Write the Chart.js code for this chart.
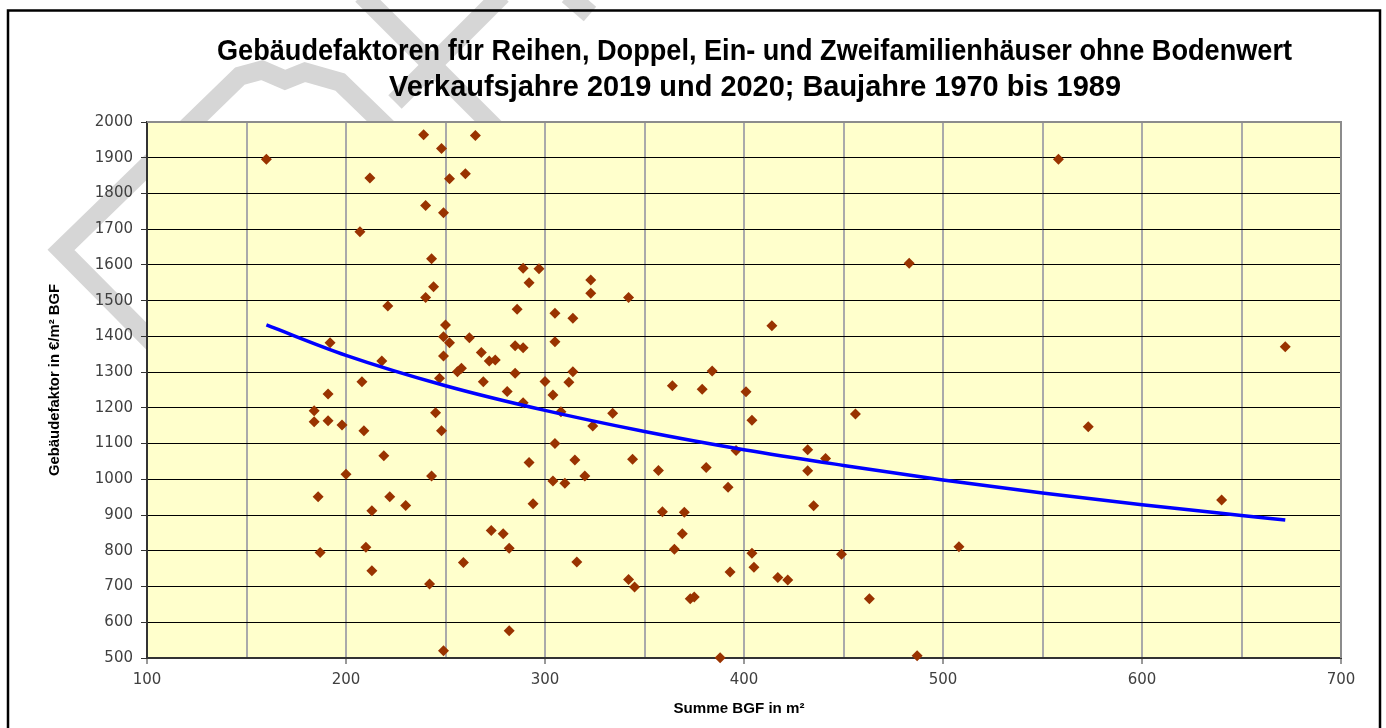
<!DOCTYPE html>
<html>
<head>
<meta charset="utf-8">
<script src="https://cdn.jsdelivr.net/npm/chart.js@4"></script>
<style>
body{margin:0;background:#fff;}
canvas{display:block;}
</style>
</head>
<body>
<canvas id="chart" width="1386" height="728"></canvas>
<script>

/* DATA */

const bgfValues=[
160,239,248,265,212,260,252,240,249,207,243,244,240,221,250,249,252,262,192,218,
249,256,258,268,272,275,247,269,208,191,184,184,191,198,209,245,248,219,200,243,
186,222,213,230,210,187,213,242,259,249,273,279,282,282,
286,289,297,292,285,289,285,281,289,300,304,305,305,314,323,323,342,312,314,308,
324,334,305,292,315,304,310,320,294,316,342,345,344,357,
364,379,384,381,359,370,369,365,373,375,388,392,393,558,483,414,672,401,404,456,
573,396,432,441,432,435,640,508,404,449,405,417,422,463,487
];

const factorValues=[
1896,1964,1926,1962,1843,1855,1841,1766,1746,1693,1617,1539,1509,1485,1432,1399,1382,1396,1382,1331,
1345,1301,1311,1355,1331,1334,1283,1273,1273,1239,1192,1161,1164,1152,1136,1186,1136,1066,1014,1009,
951,951,912,927,810,795,744,707,767,520,857,848,807,576,
1476,1591,1589,1550,1374,1368,1297,1246,1214,1274,1236,1385,1465,1451,1558,1521,1509,1272,1301,1189,
1149,1185,1100,1047,1054,995,989,1009,932,769,720,699,1056,1025,
1262,1252,1303,1033,909,908,848,804,666,671,501,978,741,1896,1605,1430,1371,1245,1165,1183,
1147,1081,1083,1058,1024,926,942,811,793,790,754,725,718,666,506
];

/* trend line */
const trendX=[160,200,250,300,350,400,450,500,550,600,650,672];
const trendY=[1432,1347,1262,1193,1134,1083,1039,998,962,929,899,886];

const titleLines=[
"Gebäudefaktoren für Reihen, Doppel, Ein- und Zweifamilienhäuser ohne Bodenwert",
"Verkaufsjahre 2019 und 2020; Baujahre 1970 bis 1989"
];
const xTitle="Summe BGF in m²";
const yTitle="Gebäudefaktor in €/m² BGF";


/* POINTS */

const points=bgfValues.map((x,i)=>({x:x,y:factorValues[i]}));
const trend=trendX.map((x,i)=>({x:x,y:trendY[i]}));


/* TEXT HELPER */

const boldFont='"Liberation Sans Narrow","Liberation Sans",Arial,sans-serif';

function fitText(ctx,text,x,y,width,font,angle){
ctx.save();
ctx.font=font;
const w=ctx.measureText(text).width;
ctx.translate(x,y);
if(angle) ctx.rotate(angle);
ctx.scale(width/w,1);
ctx.textAlign="center";
ctx.textBaseline="alphabetic";
ctx.fillStyle="#000";
ctx.fillText(text,0,0);
ctx.restore();
}


/* BACKGROUND, WATERMARK, TITLES */

const decor={
id:"decor",

beforeDraw(chart){
const ctx=chart.ctx;
const a=chart.chartArea;

ctx.save();
ctx.fillStyle="#fff";
ctx.fillRect(0,0,chart.width,chart.height);

// watermark
ctx.strokeStyle="#d6d6d6";
ctx.lineWidth=19;
ctx.lineJoin="miter";
ctx.beginPath();
ctx.moveTo(170,360);
ctx.lineTo(61,250);
ctx.lineTo(240,76);
ctx.lineTo(262,70);
ctx.lineTo(285,80);
ctx.lineTo(305,72);
ctx.lineTo(340,82);
ctx.lineTo(400,140);
ctx.stroke();
ctx.beginPath();
ctx.moveTo(362,-5);
ctx.lineTo(500,133);
ctx.stroke();
ctx.beginPath();
ctx.moveTo(502,-5);
ctx.lineTo(395,102);
ctx.stroke();
ctx.beginPath();
ctx.moveTo(568,-5);
ctx.lineTo(590,14);
ctx.stroke();

// outer frame
ctx.strokeStyle="#000";
ctx.lineWidth=2.5;
ctx.strokeRect(8,10.5,1372,740);

// plot area
ctx.fillStyle="#FFFFCC";
ctx.fillRect(a.left,a.top,a.right-a.left,a.bottom-a.top);
ctx.restore();
},

beforeDatasetsDraw(chart){
const ctx=chart.ctx;
const a=chart.chartArea;
ctx.save();
ctx.strokeStyle="#8c8c8c";
ctx.lineWidth=2;
ctx.beginPath();
ctx.moveTo(a.left,a.top);
ctx.lineTo(a.right,a.top);
ctx.lineTo(a.right,a.bottom);
ctx.stroke();
ctx.restore();
},

afterDraw(chart){
const ctx=chart.ctx;
fitText(ctx,titleLines[0],754.5,60,1075,"bold 30px "+boldFont);
fitText(ctx,titleLines[1],755,96,732,"bold 30px "+boldFont);
fitText(ctx,xTitle,739,713,131,"bold 15px "+boldFont);
fitText(ctx,yTitle,59,380,192,"bold 15px "+boldFont,-Math.PI/2);
}
};


/* CHART */

const tickFont={family:'"DejaVu Sans",Verdana,sans-serif',size:15};

new Chart(document.getElementById("chart"),{
type:"scatter",
data:{
datasets:[
{
type:"line",
data:trend,
borderColor:"#0000FF",
borderWidth:3.5,
pointRadius:0,
fill:false,
cubicInterpolationMode:"monotone",
order:0
},
{
data:points,
pointStyle:"rectRot",
pointRadius:5.5,
backgroundColor:"#993300",
borderColor:"#993300",
borderWidth:0,
clip:false,
order:1
}
]
},
options:{
responsive:false,
animation:false,
devicePixelRatio:1,
layout:{padding:{left:0,top:122,right:45,bottom:0}},
plugins:{
legend:{display:false},
tooltip:{enabled:false},
title:{display:false}
},
scales:{
x:{
type:"linear",
min:100,
max:700,
afterFit(scale){scale.height=70;},
ticks:{
stepSize:50,
autoSkip:false,
maxRotation:0,
padding:7,
color:"#404040",
font:tickFont,
callback:v=>v%100===0?String(v):""
},
grid:{
color:"#aaaaaa",
lineWidth:2,
tickLength:6,
tickWidth:1,
tickColor:c=>c.tick&&c.tick.value%100===0?"#333":"rgba(0,0,0,0)"
},
border:{color:"#333",width:2}
},
y:{
min:500,
max:2000,
afterFit(scale){scale.width=147;},
ticks:{
stepSize:100,
padding:8,
color:"#404040",
font:tickFont,
callback:v=>String(v)
},
grid:{
color:c=>c.tick&&c.tick.value===2000?"rgba(0,0,0,0)":"#000",
lineWidth:1,
tickLength:6,
tickColor:"#333"
},
border:{color:"#333",width:2}
}
}
},
plugins:[decor]
});

</script>
</body>
</html>
